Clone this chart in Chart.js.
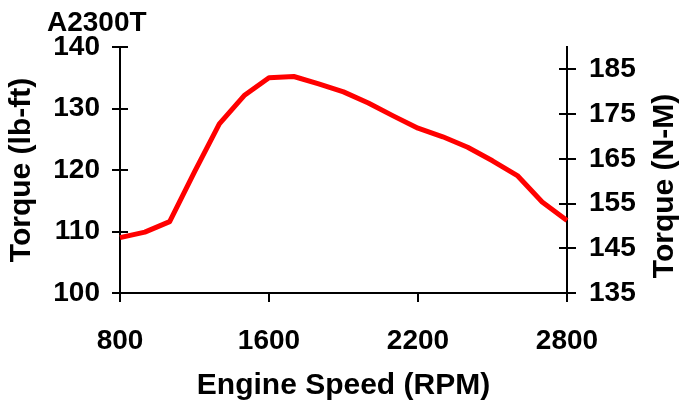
<!DOCTYPE html>
<html>
<head>
<meta charset="utf-8">
<script src="https://cdn.jsdelivr.net/npm/chart.js@4.4.0/dist/chart.umd.min.js"></script>
<style>
  body { margin: 0; background: #fff; }
  #wrap { width: 683px; height: 404px; }
</style>
</head>
<body>
<div id="wrap"><canvas id="myChart"></canvas></div>
<script>
'use strict'
// engine speed categories (only 4 of them get a label)
let rpmLabels = ['800','1000','1200','1300','1400','1500','1600','1700','1800','1900',
                 '2000','2100','2200','2300','2400','2500','2600','2700','2800'];
let torqueLbFt = [109.0, 109.9, 111.6, 119.7, 127.5, 132.1, 135.0, 135.2, 134.0, 132.7,
                  130.9, 128.8, 126.8, 125.4, 123.7, 121.5, 119.1, 114.8, 111.8];
let xTickLabels = ['800','1600','2200','2800'];
let leftTicks = [100, 110, 120, 130, 140];
let rightTicks = [135, 145, 155, 165, 175, 185];

let chartTitle = 'A2300T';
let xTitle = 'Engine Speed (RPM)';
let leftTitle = 'Torque (lb-ft)';
let rightTitle = 'Torque (N-M)';

const FONT = '"Liberation Sans", Arial, sans-serif';
Chart.defaults.font.family = FONT;
Chart.defaults.color = '#000';

// inner half of the crossing tick marks, title and right axis title
const extras = {
  id: 'extras',
  afterDraw(chart) {
    const ctx = chart.ctx;
    const yl = chart.scales.y;
    const yr = chart.scales.y2;
    ctx.save();
    ctx.strokeStyle = '#000';
    ctx.lineWidth = 2;
    yl.ticks.forEach(t => {
      const py = Math.round(yl.getPixelForValue(t.value));
      ctx.beginPath(); ctx.moveTo(yl.right, py); ctx.lineTo(yl.right + 8, py); ctx.stroke();
    });
    yr.ticks.forEach(t => {
      const py = Math.round(yr.getPixelForValue(t.value));
      ctx.beginPath(); ctx.moveTo(yr.left, py); ctx.lineTo(yr.left - 8, py); ctx.stroke();
    });

    ctx.fillStyle = '#000';
    ctx.font = 'bold 28px ' + FONT;
    ctx.textAlign = 'left';
    ctx.textBaseline = 'alphabetic';
    ctx.fillText(chartTitle, 47, 31);

    ctx.translate(665, 186);
    ctx.rotate(-Math.PI / 2);
    ctx.font = 'bold 30px ' + FONT;
    ctx.textAlign = 'center';
    ctx.textBaseline = 'middle';
    ctx.fillText(rightTitle, 0, 0);
    ctx.restore();
  }
};

const data = {
  labels: rpmLabels,
  datasets: [{
    label: 'Torque',
    data: torqueLbFt,
    borderColor: '#ff0000',
    borderWidth: 5,
    pointRadius: 0,
    tension: 0,
    fill: false,
    borderJoinStyle: 'round',
    yAxisID: 'y'
  }]
};

const config = {
  type: 'line',
  data: data,
  options: {
    responsive: true,
    maintainAspectRatio: false,
    animation: false,
    layout: { padding: { top: 47, left: 0, right: 0, bottom: 0 } },
    plugins: {
      legend: { display: false },
      tooltip: { enabled: false },
      title: { display: false }
    },
    scales: {
      x: {
        type: 'category',
        offset: false,
        afterBuildTicks: s => { s.ticks = s.ticks.filter(t => xTickLabels.includes(rpmLabels[t.value])); },
        afterFit: s => { s.height = 111; },
        grid: { drawOnChartArea: false, drawTicks: true, tickLength: 9, color: '#000', lineWidth: 2, offset: false },
        border: { display: true, color: '#000', width: 2 },
        ticks: { autoSkip: false, maxRotation: 0, padding: 22, font: { size: 28, weight: 'bold' } },
        title: { display: true, text: xTitle, font: { size: 30, weight: 'bold' }, padding: { top: 0, bottom: 0 } }
      },
      y: {
        position: 'left',
        min: 100,
        max: 140,
        afterBuildTicks: s => { s.ticks = leftTicks.map(v => ({ value: v })); },
        afterFit: s => { s.width = 120; },
        grid: { drawOnChartArea: false, drawTicks: true, tickLength: 8, color: '#000', lineWidth: 2 },
        border: { display: true, color: '#000', width: 2 },
        ticks: { padding: 12, font: { size: 28, weight: 'bold' } },
        title: { display: true, text: leftTitle, font: { size: 30, weight: 'bold' }, padding: { top: 4, bottom: 0 } }
      },
      y2: {
        position: 'right',
        min: 135,
        max: 190,
        afterBuildTicks: s => { s.ticks = rightTicks.map(v => ({ value: v })); },
        afterFit: s => { s.width = 116; },
        grid: { drawOnChartArea: false, drawTicks: true, tickLength: 9, color: '#000', lineWidth: 2 },
        border: { display: true, color: '#000', width: 2 },
        ticks: { padding: 13, font: { size: 28, weight: 'bold' } }
      }
    }
  },
  plugins: [extras]
};

var myChart = new Chart(document.getElementById('myChart'), config);
</script>
</body>
</html>
